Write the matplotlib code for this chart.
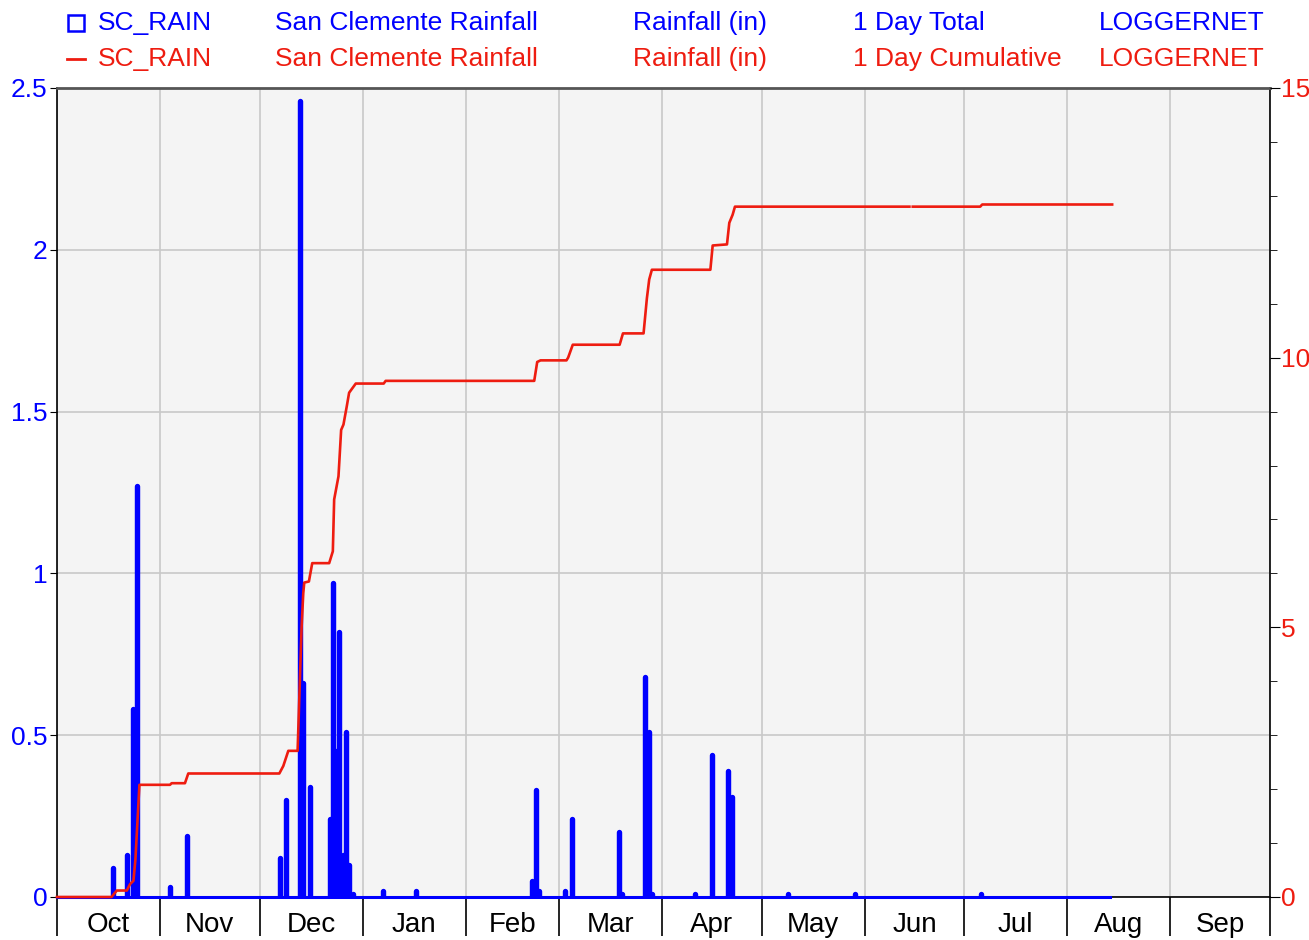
import numpy as np
import pandas as pd
import matplotlib
matplotlib.use("Agg")
import matplotlib.pyplot as plt
from matplotlib.lines import Line2D

plt.rcParams["font.family"] = ["Liberation Sans", "DejaVu Sans"]

# ── data (x = days since Oct 1 of the water year) ────────────────────────────
months = ["Oct", "Nov", "Dec", "Jan", "Feb", "Mar", "Apr", "May", "Jun", "Jul", "Aug", "Sep"]
n_days_logged = 318

rain_days = [17, 21, 23, 24, 34, 39, 67, 69, 73, 74, 76, 82, 83, 84, 85, 86, 87, 88, 89,
             98, 108, 143, 144, 145, 153, 155, 169, 170, 177, 178, 179, 192, 197, 202, 203,
             220, 240, 278]
rain_vals = [0.09, 0.13, 0.58, 1.27, 0.03, 0.19, 0.12, 0.30, 2.46, 0.66, 0.34, 0.24, 0.97,
             0.45, 0.82, 0.13, 0.51, 0.10, 0.01, 0.02, 0.02, 0.05, 0.33, 0.02, 0.02, 0.24,
             0.20, 0.01, 0.68, 0.51, 0.01, 0.01, 0.44, 0.39, 0.31, 0.01, 0.01, 0.01]

cum_days = [0, 16.4, 18.0, 21.0, 22.0, 23.0, 23.6, 24.8, 34.0, 34.5, 38.5, 39.5, 66.9, 68.1,
            69.6, 72.4, 73.6, 74.1, 74.4, 75.8, 76.8, 81.9, 83.0, 83.4, 84.7, 85.5, 86.2,
            87.2, 87.9, 89.9, 98.3, 98.9, 143.6, 144.5, 145.5, 153.3, 153.8, 155.2, 169.3,
            170.3, 176.5, 177.5, 178.2, 179.0, 196.6, 197.3, 201.6, 202.3, 203.3, 204.0,
            256.5, 256.9, 257.5, 277.8, 278.4, 317.5]
cum_vals = [0, 0, 0.12, 0.12, 0.24, 0.30, 0.70, 2.08, 2.08, 2.11, 2.11, 2.29, 2.29, 2.43,
            2.71, 2.71, 5.00, 5.63, 5.83, 5.85, 6.19, 6.19, 6.41, 7.37, 7.80, 8.66, 8.76,
            9.10, 9.35, 9.52, 9.52, 9.57, 9.57, 9.92, 9.95, 9.95, 10.00, 10.24, 10.24,
            10.45, 10.45, 11.10, 11.45, 11.63, 11.63, 12.08, 12.10, 12.50, 12.65, 12.80,
            12.80, np.nan, 12.80, 12.80, 12.84, 12.84]

legend_rows = [
    ["SC_RAIN", "San Clemente Rainfall", "Rainfall (in)", "1 Day Total", "LOGGERNET"],
    ["SC_RAIN", "San Clemente Rainfall", "Rainfall (in)", "1 Day Cumulative", "LOGGERNET"],
]

BLUE = "#0000ff"
RED = "#ee1c10"

start = pd.Timestamp("2018-10-01")
month_starts = (pd.date_range(start, periods=13, freq="MS") - start).days.values
month_mids = (month_starts[:-1] + month_starts[1:]) / 2

daily = np.zeros(n_days_logged)
daily[rain_days] = rain_vals
days = np.arange(n_days_logged)

# ── figure ────────────────────────────────────────────────────────────────────
W, H = 1309, 940
fig = plt.figure(figsize=(W / 100, H / 100), dpi=100)
ax = fig.add_axes([57 / W, 1 - 897 / H, (1270 - 57) / W, (897 - 88) / H])
ax.set_facecolor("#f4f4f4")

# daily totals as thick round-capped sticks, plus the logged zero baseline
wet = daily > 0
ax.vlines(days[wet], 0, daily[wet], color=BLUE, linewidth=3.9,
          capstyle="round", zorder=3)
ax.plot([days[0], days[-1]], [0, 0], color=BLUE, linewidth=2.2,
        clip_on=False, zorder=5)

ax.set_xlim(0, 365)
ax.set_ylim(0, 2.5)
ax.set_yticks([0, 0.5, 1, 1.5, 2, 2.5])
ax.set_yticklabels(["0", "0.5", "1", "1.5", "2", "2.5"])
ax.tick_params(axis="y", colors="black", labelcolor=BLUE, labelsize=19, length=5, pad=2)

ax.set_xticks(month_starts)
ax.set_xticklabels([])
ax.set_xticks(month_mids, minor=True)
ax.set_xticklabels(months, minor=True)
ax.tick_params(axis="x", which="major", length=28, width=1.2, color="black")
ax.tick_params(axis="x", which="minor", length=0, labelsize=20, pad=11)

ax.grid(True, which="major", color="#c8c8c8", linewidth=1.2, zorder=0)
ax.set_axisbelow(True)

for side in ["left", "right", "bottom"]:
    ax.spines[side].set_color("black")
    ax.spines[side].set_linewidth(1.2)
ax.spines["top"].set_color("#555555")
ax.spines["top"].set_linewidth(2)

ax2 = ax.twinx()
ax2.plot(cum_days, cum_vals, color=RED, linewidth=1.9, zorder=4, clip_on=False)
ax2.set_ylim(0, 15)
ax2.set_yticks([0, 5, 10, 15])
ax2.set_yticks(np.arange(0, 16, 1), minor=True)
ax2.tick_params(axis="y", which="major", length=7, colors="black", labelcolor=RED,
                labelsize=19, pad=1)
ax2.tick_params(axis="y", which="minor", length=5, color="black")
for side in ["left", "right", "bottom", "top"]:
    ax2.spines[side].set_visible(False)

# ── legend header ─────────────────────────────────────────────────────────────
col_x = [98, 275, 633, 853, 1099]
row_y = [23, 59]
colors = [BLUE, RED]
for r, row in enumerate(legend_rows):
    y = 1 - row_y[r] / H
    for c, txt in enumerate(row):
        fig.text(col_x[c] / W, y, txt, color=colors[r], fontsize=19, va="center", ha="left")

fig.add_artist(Line2D([76 / W], [1 - row_y[0] / H], marker="s", markersize=12,
                      markerfacecolor="none", markeredgecolor=BLUE, markeredgewidth=1.8,
                      transform=fig.transFigure))
fig.add_artist(Line2D([67 / W, 85 / W], [1 - row_y[1] / H] * 2, color=RED, linewidth=2,
                      transform=fig.transFigure))

fig.savefig("out.png", dpi=100)
